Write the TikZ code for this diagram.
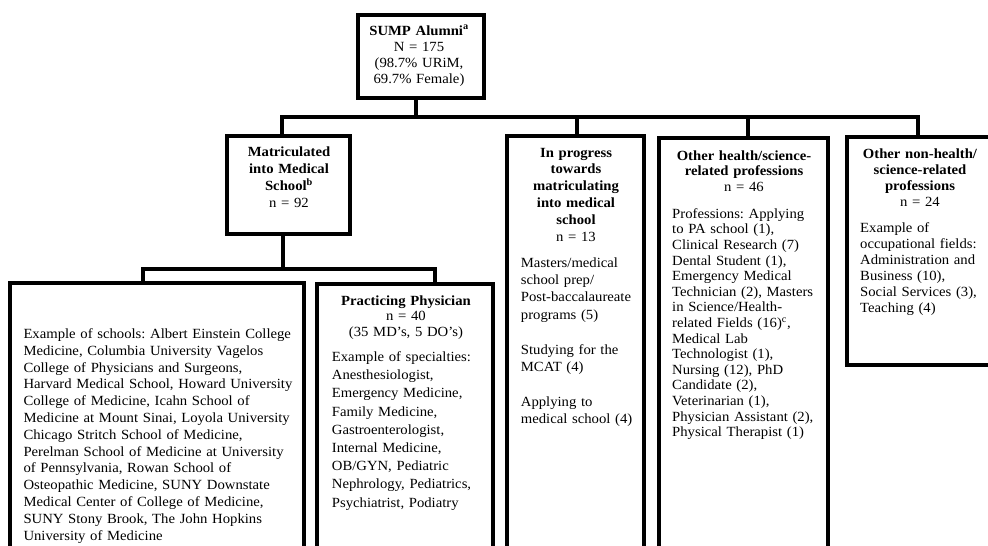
\documentclass[tikz,border=0pt]{standalone}
\usepackage{fontspec}
\setmainfont{Liberation Serif}[FakeStretch=1.05]
\newcommand\fsz[1]{\fontsize{14}{#1}\selectfont}
\frenchspacing
\begin{document}
\begin{tikzpicture}[x=1pt,y=-1pt,
  box/.style={draw, line width=4pt, anchor=north west, inner sep=0pt, outer sep=0pt},
  conn/.style={line width=4pt},
  ttl/.style={anchor=base, inner sep=0pt, align=center, text width=#1},
  bodytxt/.style={anchor=base west, inner sep=0pt, align=left, text width=#1}]
\useasboundingbox (0,0) rectangle (988,546);
\clip (0,0) rectangle (988,546);
% boxes
\node[box, minimum width=126pt, minimum height=83pt] (top) at (358,15) {};
\node[box, minimum width=123pt, minimum height=98pt] (matric) at (227,136) {};
\node[box, minimum width=137pt, minimum height=430pt] (prog) at (507,136) {};
\node[box, minimum width=169pt, minimum height=430pt] (oth) at (659,138) {};
\node[box, minimum width=160pt, minimum height=228pt] (nonh) at (847,137) {};
\node[box, minimum width=294pt, minimum height=300pt] (left) at (10,283) {};
\node[box, minimum width=176pt, minimum height=300pt] (prac) at (317,284) {};
% connectors
\coordinate (b1) at (282,117);
\coordinate (b2) at (577,117);
\coordinate (b3) at (748,117);
\coordinate (b4) at (918,117);
\coordinate (t0) at (416,117);
\draw[conn] (top.south -| t0) -- (t0);
\draw[conn] (matric.north -| b1) -- (b1) -- (b4) -- (nonh.north -| b4);
\draw[conn] (b2) -- (prog.north -| b2);
\draw[conn] (b3) -- (oth.north -| b3);
\coordinate (c0) at (283,269);
\coordinate (c1) at (143,269);
\coordinate (c2) at (435,269);
\draw[conn] (matric.south -| c0) -- (c0);
\draw[conn] (left.north -| c1) -- (c1) -- (c2) -- (prac.north -| c2);
% texts
\node[ttl=120pt, font=\fsz{16}] (toptxt) at (419,35)
  {{\bfseries SUMP Alumni\textsuperscript{a}}\\N = 175\\(98.7\% URiM,\\69.7\% Female)};
\node[ttl=118pt, font=\fsz{17.2}] (mattxt) at (289,156)
  {{\bfseries Matriculated\\into Medical\\School\textsuperscript{b}}\\n = 92};
\node[ttl=130pt, font=\fsz{16.8}] (progttl) at (576,157)
  {{\bfseries In progress\\towards\\matriculating\\into medical\\school}\\n = 13};
\node[bodytxt=122pt, font=\fsz{17.4}] (progbody) at (520.7,267)
  {Masters/medical\\school prep/\\Post-baccalaureate\\programs (5)\\[17.4pt]Studying for the\\MCAT (4)\\[17.4pt]Applying to\\medical school (4)};
\node[ttl=165pt, font=\fsz{15.8}] (othttl) at (744,160)
  {{\bfseries Other health/science-\\related professions}\\n = 46};
\node[bodytxt=155pt, font=\fsz{15.6}] (othbody) at (672,218.3)
  {Professions: Applying\\to PA school (1),\\Clinical Research (7)\\Dental Student (1),\\Emergency Medical\\Technician (2), Masters\\in Science/Health-\\related Fields (16)\textsuperscript{c},\\Medical Lab\\Technologist (1),\\Nursing (12), PhD\\Candidate (2),\\Veterinarian (1),\\Physician Assistant (2),\\Physical Therapist (1)};
\node[ttl=135pt, font=\fsz{16.1}] (nonhttl) at (920,158.3)
  {{\bfseries Other non-health/\\science-related\\professions}\\n = 24};
\node[bodytxt=125pt, font=\fsz{16}] (nonhbody) at (860,232)
  {Example of\\occupational fields:\\Administration and\\Business (10),\\Social Services (3),\\Teaching (4)};
\node[ttl=170pt, font=\fsz{15.8}] (practtl) at (406,305)
  {{\bfseries Practicing Physician}\\n = 40\\(35 MD’s, 5 DO’s)};
\node[bodytxt=158pt, font=\fsz{18.2}] (pracbody) at (331.7,361.5)
  {Example of specialties:\\Anesthesiologist,\\Emergency Medicine,\\Family Medicine,\\Gastroenterologist,\\Internal Medicine,\\OB/GYN, Pediatric\\Nephrology, Pediatrics,\\Psychiatrist, Podiatry};
\node[bodytxt=285pt, font=\fsz{16.8}] (leftbody) at (23.3,338.5)
  {Example of schools: Albert Einstein College\\Medicine, Columbia University Vagelos\\College of Physicians and Surgeons,\\Harvard Medical School, Howard University\\College of Medicine, Icahn School of\\Medicine at Mount Sinai, Loyola University\\Chicago Stritch School of Medicine,\\Perelman School of Medicine at University\\of Pennsylvania, Rowan School of\\Osteopathic Medicine, SUNY Downstate\\Medical Center of College of Medicine,\\SUNY Stony Brook, The John Hopkins\\University of Medicine};
\end{tikzpicture}
\end{document}
